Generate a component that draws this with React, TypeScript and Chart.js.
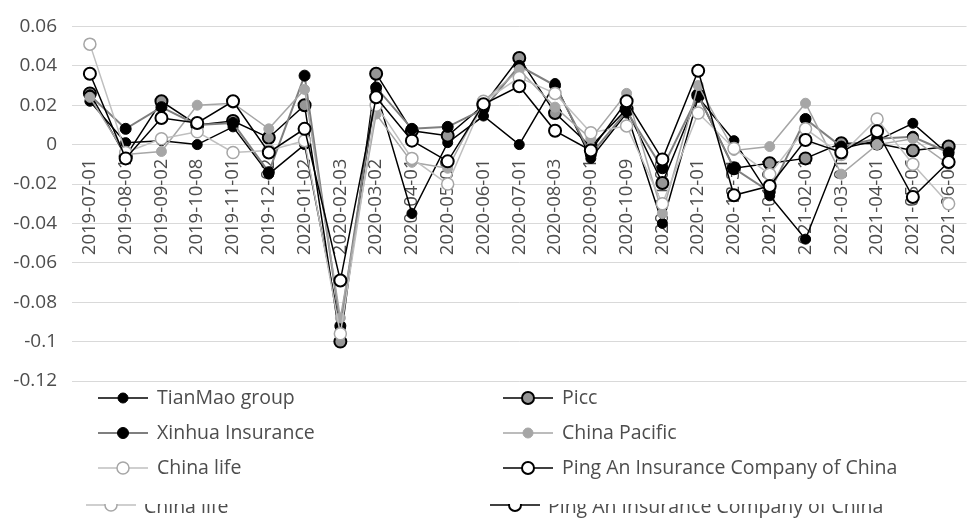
import { useEffect, useRef } from "react";
import { Chart, registerables } from "chart.js";

Chart.register(...registerables);

const categories = [
  "2019-07-01", "2019-08-01", "2019-09-02", "2019-10-08", "2019-11-01",
  "2019-12-02", "2020-01-02", "2020-02-03", "2020-03-02", "2020-04-01",
  "2020-05-06", "2020-06-01", "2020-07-01", "2020-08-03", "2020-09-01",
  "2020-10-09", "2020-11-02", "2020-12-01", "2020-12-31", "2021-01-04",
  "2021-02-01", "2021-03-01", "2021-04-01", "2021-05-06", "2021-06-01",
];

const yTickValues = [0.06, 0.04, 0.02, 0, -0.02, -0.04, -0.06, -0.08, -0.1, -0.12];

const seriesNames = [
  "TianMao group",
  "Picc",
  "Xinhua Insurance",
  "China Pacific",
  "China life",
  "Ping An Insurance Company of China",
];

const tianMao = [0.022, 0.001, 0.002, 0.0, 0.009, -0.015, 0.0, -0.093, 0.027, -0.035, 0.001, 0.0145, 0.0, 0.031, -0.007, 0.016, -0.04, 0.024, 0.002, -0.026, -0.048, -0.002, 0.002, 0.0108, -0.005];
const picc = [0.026, -0.006, 0.022, 0.01, 0.012, 0.0035, 0.02, -0.1, 0.036, 0.007, 0.0045, 0.02, 0.044, 0.016, -0.001, 0.018, -0.0195, 0.025, -0.012, -0.0095, -0.007, 0.0007, 0.0005, -0.003, -0.001];
const xinhua = [0.025, 0.008, 0.019, 0.01, 0.011, -0.014, 0.035, -0.092, 0.029, 0.008, 0.009, 0.018, 0.04, 0.03, -0.005, 0.017, -0.012, 0.025, -0.012, -0.024, 0.013, -0.001, 0.003, 0.004, -0.004];
const chinaPacific = [0.024, -0.005, -0.0035, 0.02, 0.021, 0.008, 0.028, -0.088, 0.0155, -0.009, -0.012, 0.022, 0.038, 0.019, 0.003, 0.026, -0.035, 0.03, -0.003, -0.001, 0.021, -0.015, 0.0, 0.003, -0.01];
const chinaLife = [0.051, -0.004, 0.003, 0.0065, -0.004, -0.003, 0.002, -0.096, 0.02, -0.007, -0.02, 0.022, 0.034, 0.026, 0.006, 0.0095, -0.03, 0.016, -0.002, -0.015, 0.008, -0.005, 0.013, -0.01, -0.03];
const pingAn = [0.036, -0.007, 0.0135, 0.011, 0.022, -0.004, 0.008, -0.069, 0.024, 0.002, -0.0085, 0.0205, 0.0296, 0.007, -0.003, 0.022, -0.0075, 0.0375, -0.0257, -0.021, 0.0023, -0.004, 0.0068, -0.0266, -0.0088];

const seriesValues = [tianMao, picc, xinhua, chinaPacific, chinaLife, pingAn];

const styles = [
  { line: "#000000", lw: 1.5, r: 5, fill: "#000000", stroke: "#000000", bw: 1 },
  { line: "#000000", lw: 1.5, r: 6, fill: "#969696", stroke: "#000000", bw: 2 },
  { line: "#7f7f7f", lw: 2, r: 5.5, fill: "#000000", stroke: "#000000", bw: 1 },
  { line: "#a6a6a6", lw: 1.5, r: 5, fill: "#a6a6a6", stroke: "#a6a6a6", bw: 1 },
  { line: "#bfbfbf", lw: 1.5, r: 6, fill: "#ffffff", stroke: "#a6a6a6", bw: 1.5 },
  { line: "#000000", lw: 1.5, r: 6, fill: "#ffffff", stroke: "#000000", bw: 2 },
];

const FONT = '"Open Sans", "Noto Sans", sans-serif';
const TEXT = "#4d4d4d";

function drawSymbol(ctx: CanvasRenderingContext2D, s: any, x0: number, y: number) {
  ctx.beginPath();
  ctx.strokeStyle = s.line;
  ctx.lineWidth = s.lw;
  ctx.moveTo(x0, y);
  ctx.lineTo(x0 + 50, y);
  ctx.stroke();
  ctx.beginPath();
  ctx.arc(x0 + 25, y, s.r, 0, Math.PI * 2);
  ctx.fillStyle = s.fill;
  ctx.fill();
  ctx.lineWidth = s.bw;
  ctx.strokeStyle = s.stroke;
  ctx.stroke();
}

const legendPlugin = {
  id: "gridLegend",
  afterDraw(chart: any) {
    const { ctx, chartArea } = chart;
    const left = chartArea.left;
    const bottom = chartArea.bottom;
    ctx.save();
    ctx.font = `19.5px ${FONT}`;
    seriesNames.forEach((name, i) => {
      const col = i % 2;
      const row = Math.floor(i / 2);
      const x0 = left + 26 + col * 405;
      const y = bottom + 17 + row * 35;
      drawSymbol(ctx, styles[i], x0, y);
      ctx.fillStyle = TEXT;
      ctx.textBaseline = "middle";
      ctx.fillText(name, x0 + 59, y);
    });
    // clipped echo of the last legend row at the bottom edge
    ctx.beginPath();
    ctx.rect(0, bottom + 123, chart.width, 60);
    ctx.clip();
    [4, 5].forEach((i, col) => {
      const x0 = left + 14 + col * 404;
      const y = bottom + 124;
      drawSymbol(ctx, styles[i], x0, y);
      ctx.fillStyle = TEXT;
      ctx.textBaseline = "alphabetic";
      ctx.fillText(seriesNames[i], x0 + 58, bottom + 132);
    });
    ctx.restore();
  },
};

export default function App() {
  const ref = useRef<HTMLCanvasElement>(null);

  useEffect(() => {
    if (!ref.current) return;
    const chart = new Chart(ref.current, {
      type: "line",
      data: {
        labels: categories,
        datasets: seriesValues.map((vals, i) => ({
          label: seriesNames[i],
          data: vals,
          borderColor: styles[i].line,
          borderWidth: styles[i].lw,
          pointRadius: styles[i].r,
          pointBackgroundColor: styles[i].fill,
          pointBorderColor: styles[i].stroke,
          pointBorderWidth: styles[i].bw,
          tension: 0,
          fill: false,
          order: seriesNames.length - i,
        })),
      },
      options: {
        animation: false,
        responsive: true,
        maintainAspectRatio: false,
        layout: { padding: { top: 18, bottom: 137, left: 0, right: 0 } },
        plugins: {
          legend: { display: false },
          tooltip: { enabled: false },
        },
        scales: {
          x: {
            type: "category",
            position: { y: 0 } as any,
            offset: true,
            grid: { display: false, drawTicks: false },
            border: { display: false },
            ticks: {
              autoSkip: false,
              maxRotation: 90,
              minRotation: 90,
              padding: 14,
              color: TEXT,
              font: { family: FONT, size: 18.5 },
            },
          },
          y: {
            min: Math.min(...yTickValues),
            max: Math.max(...yTickValues),
            afterFit: (s: any) => {
              s.width = 72;
            },
            grid: { color: "#d9d9d9", lineWidth: 1, drawTicks: false },
            border: { display: false },
            ticks: {
              stepSize: 0.02,
              padding: 15,
              color: TEXT,
              font: { family: FONT, size: 19 },
              callback: (v: any) => String(Math.round(Number(v) * 100) / 100),
            },
          },
        },
      },
      plugins: [legendPlugin],
    });
    return () => chart.destroy();
  }, []);

  return (
    <div
      style={{
        position: "fixed",
        left: 0,
        top: 0,
        width: 972,
        height: 518,
        overflow: "hidden",
        background: "#ffffff",
      }}
    >
      <div style={{ position: "relative", width: 985, height: 518 }}>
        <canvas ref={ref} />
      </div>
    </div>
  );
}
